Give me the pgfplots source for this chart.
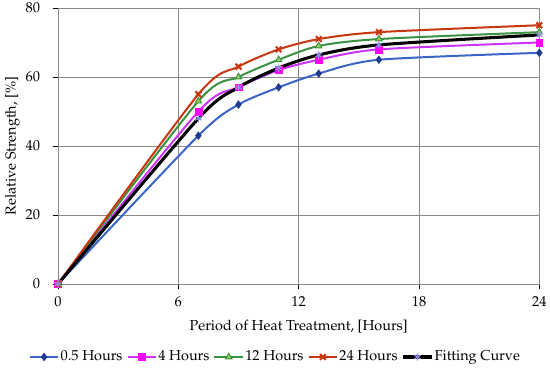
\documentclass[border=0pt]{standalone}
\usepackage[T1]{fontenc}
\usepackage{mathpazo}
\usepackage{pgfplots}
\pgfplotsset{compat=1.18}
\definecolor{cblue}{HTML}{3A64C8}
\definecolor{cnavy}{HTML}{1F3A93}
\definecolor{cmag}{HTML}{CC33FF}
\definecolor{cmagm}{HTML}{FF00FF}
\definecolor{cgreen}{HTML}{3A9140}
\definecolor{cgreenm}{HTML}{9ACD5A}
\definecolor{cred}{HTML}{C8360F}
\definecolor{cfit}{HTML}{8F8FE8}
\definecolor{cgrid}{HTML}{8A8A8A}
\begin{document}
\begin{tikzpicture}
\useasboundingbox (-43.5pt,-64.5pt) rectangle (369pt,213pt);
\begin{axis}[
  at={(0pt,0pt)}, anchor=south west,
  scale only axis,
  width=361pt, height=207pt,
  xmin=0, xmax=24, ymin=0, ymax=80,
  xtick={0,6,12,18,24}, ytick={0,20,40,60,80},
  grid=major,
  grid style={cgrid, line width=0.6pt},
  axis line style={cgrid, line width=0.6pt},
  tick style={black, line width=0.6pt},
  tick align=outside,
  major tick length=4pt,
  xtick pos=bottom, ytick pos=left,
  tick label style={font=\fontsize{10.8}{13}\selectfont},
  yticklabel style={xshift=-6pt},
  xticklabel style={yshift=-2pt},
  label style={font=\fontsize{10.8}{13}\selectfont},
  xlabel={Period of Heat Treatment, [Hours]},
  ylabel={Relative Strength, [\%]},
  xlabel style={at={(axis description cs:0.5,-0.1558)}, anchor=center},
  ylabel style={at={(axis description cs:-0.0946,0.5)}, anchor=center},
  legend columns=5,
  legend style={draw=none, at={(0.451,-0.2645)}, anchor=center,
    font=\fontsize{10.8}{13}\selectfont,
    nodes={inner xsep=1pt},
    /tikz/every even column/.append style={column sep=2pt}},
  legend image code/.code={\draw[mark repeat=2,mark phase=2]
    plot coordinates {(0cm,0cm) (0.375cm,0cm) (0.75cm,0cm)};},
  every axis plot/.append style={smooth, tension=0.45},
]
\addplot[cblue, line width=1.5pt, mark=diamond*, mark size=2.8pt,
  mark options={fill=cnavy, draw=cnavy, line width=0.5pt}]
  coordinates {(0,0) (7,43) (9,52) (11,57) (13,61) (16,65) (24,67)};
\addlegendentry{0.5 Hours}
\addplot[cmag, line width=1.5pt, mark=square*, mark size=2.6pt,
  mark options={fill=cmagm, draw=cmagm, line width=0.5pt}]
  coordinates {(0,0) (7,50) (9,57) (11,62) (13,65) (16,68) (24,70)};
\addlegendentry{4 Hours}
\addplot[cgreen, line width=1.5pt, mark=triangle*, mark size=2.8pt,
  mark options={fill=cgreenm, draw=cgreen, line width=0.7pt}]
  coordinates {(0,0) (7,53) (9,60) (11,65) (13,69) (16,71) (24,73)};
\addlegendentry{12 Hours}
\addplot[cred, line width=1.5pt, mark=x, mark size=3pt,
  mark options={draw=cred, line width=1.5pt}]
  coordinates {(0,0) (7,55) (9,63) (11,68) (13,71) (16,73) (24,75)};
\addlegendentry{24 Hours}
\addplot[black, line width=2.3pt, mark=asterisk, mark size=2.8pt,
  mark options={draw=cfit, line width=0.8pt}]
  coordinates {(0,0) (7,48) (9,57) (11,62.6) (13,66.4) (16,69.3) (24,72.2)};
\addlegendentry{Fitting Curve}
\end{axis}
\end{tikzpicture}
\end{document}
